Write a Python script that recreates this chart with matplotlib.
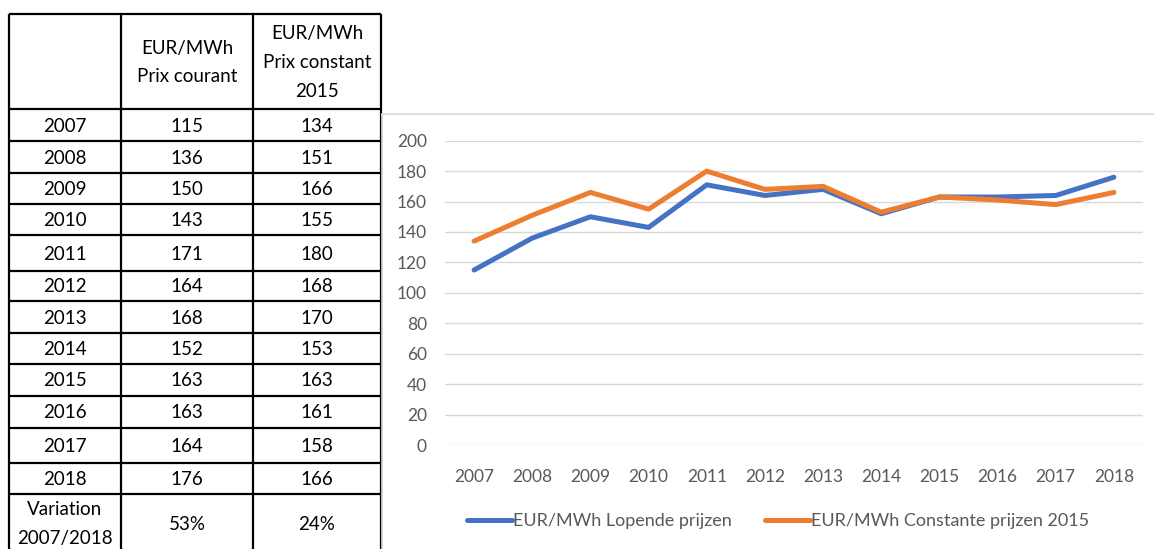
import matplotlib
matplotlib.use("Agg")
import matplotlib.pyplot as plt
import numpy as np

years = ["2007", "2008", "2009", "2010", "2011", "2012", "2013", "2014", "2015", "2016", "2017", "2018"]
prix_courant = [115, 136, 150, 143, 171, 164, 168, 152, 163, 163, 164, 176]
prix_constant = [134, 151, 166, 155, 180, 168, 170, 153, 163, 161, 158, 166]
variation_label = "Variation\n2007/2018"
variation_values = ["53%", "24%"]
header_cols = ["", "EUR/MWh\nPrix courant", "EUR/MWh\nPrix constant\n2015"]
series_names = ["EUR/MWh Lopende prijzen", "EUR/MWh Constante prijzen 2015"]
yticks = list(range(0, 201, 20))

plt.rcParams['font.family'] = ['Lato', 'DejaVu Sans']

W, H = 1154, 549
fig = plt.figure(figsize=(W / 100, H / 100), dpi=100)

# ---------- table (pixel-coordinate overlay) ----------
tax = fig.add_axes([0, 0, 1, 1])
tax.set_xlim(0, W)
tax.set_ylim(H, 0)
tax.axis("off")

col_x = [9, 121, 253, 381]
row_y = [14, 109, 141, 173, 204, 235, 271, 301, 333, 364, 396, 428, 463, 494, 560]

lw = 1.6
for x in col_x:
    tax.plot([x, x], [row_y[0], H + 5], color="black", lw=lw, solid_capstyle="butt")
for y in row_y[:-1]:
    tax.plot([col_x[0], col_x[-1]], [y, y], color="black", lw=lw, solid_capstyle="butt")

fs_tab = 13.5
ls_tab = 1.85
centers_x = [(col_x[i] + col_x[i + 1]) / 2 for i in range(3)]

# header
for i, txt in enumerate(header_cols):
    if txt:
        tax.text(centers_x[i], (row_y[0] + row_y[1]) / 2 + 1, txt, ha="center", va="center",
                 fontsize=fs_tab, linespacing=ls_tab, color="black")

# rows
for r, yr in enumerate(years):
    yc = (row_y[r + 1] + row_y[r + 2]) / 2 + 1
    vals = [yr, str(prix_courant[r]), str(prix_constant[r])]
    for c, v in enumerate(vals):
        tax.text(centers_x[c], yc, v, ha="center", va="center", fontsize=fs_tab, color="black")

# variation row
yc = 524
tax.text(centers_x[0], yc, variation_label, ha="center", va="center", fontsize=fs_tab,
         linespacing=ls_tab, color="black")
tax.text(centers_x[1], yc, variation_values[0], ha="center", va="center", fontsize=fs_tab, color="black")
tax.text(centers_x[2], yc, variation_values[1], ha="center", va="center", fontsize=fs_tab, color="black")

# chart frame (light gray)
tax.plot([382, W], [114, 114], color="#D9D9D9", lw=1.2)
tax.plot([382, 382], [114, H], color="#D9D9D9", lw=1.2)

# ---------- line chart ----------
left_px, right_px = 445, 1143
top_px, bot_px = 140.7, 445
ax = fig.add_axes([left_px / W, (H - bot_px) / H, (right_px - left_px) / W, (bot_px - top_px) / H])
ax.patch.set_alpha(0)
x = np.arange(len(years))
ax.plot(x, prix_courant, color="#4472C4", lw=3.6, solid_joinstyle="round", solid_capstyle="round",
        label=series_names[0], zorder=3)
ax.plot(x, prix_constant, color="#ED7D31", lw=3.6, solid_joinstyle="round", solid_capstyle="round",
        label=series_names[1], zorder=3)
ax.set_xlim(-0.5, len(years) - 0.5)
ax.set_ylim(0, 200)
ax.set_yticks(yticks)
ax.set_xticks(x)
ax.set_xticklabels(years)
ax.grid(axis="y", color="#D9D9D9", lw=1.0)
ax.set_axisbelow(True)
for s in ax.spines.values():
    s.set_visible(False)
ax.tick_params(axis="both", length=0, labelsize=12.5, labelcolor="#595959")
ax.tick_params(axis="y", pad=13)
ax.tick_params(axis="x", pad=17)

leg = fig.legend(handles=ax.get_lines(), labels=series_names, loc="center",
                 bbox_to_anchor=(778 / W, (H - 521) / H), ncol=2, frameon=False,
                 fontsize=13, handlelength=2.5, handletextpad=0.05, columnspacing=1.8)
for t in leg.get_texts():
    t.set_color("#595959")

fig.savefig("out.png", dpi=100)
